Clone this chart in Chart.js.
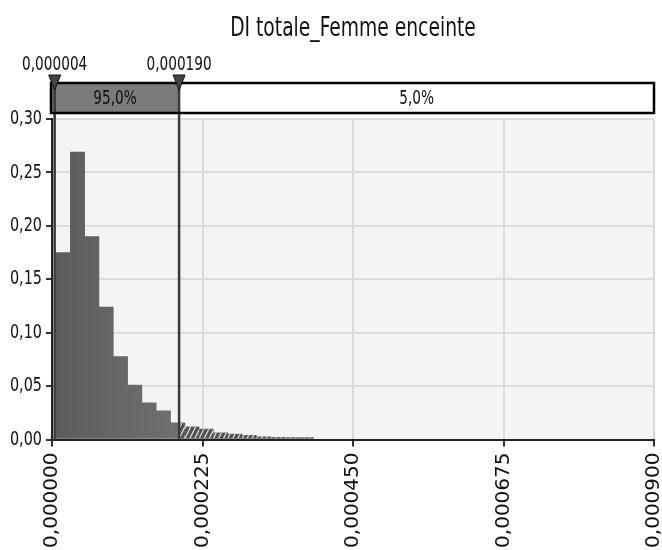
<!DOCTYPE html>
<html>
<head>
<meta charset="utf-8">
<script src="https://cdn.jsdelivr.net/npm/chart.js@4.4.0/dist/chart.umd.min.js"></script>
<style>
  html, body { margin: 0; padding: 0; background: #fff; }
  #wrap { width: 662px; height: 550px; }
</style>
</head>
<body>
<div id="wrap"><canvas id="graph" width="662" height="550"></canvas></div>
<script>
const chartTitle = 'DI totale_Femme enceinte';

// histogram bins (centres) and probability per bin
const binCenters = [
  0.0000167, 0.0000381, 0.0000595, 0.0000809, 0.0001023, 0.0001237,
  0.0001451, 0.0001665, 0.0001879, 0.0002093, 0.0002307, 0.0002521,
  0.0002735, 0.0002949, 0.0003163, 0.0003377, 0.0003591, 0.0003805
];
const probabilities = [
  0.175, 0.269, 0.190, 0.124, 0.0775, 0.051,
  0.0343, 0.0268, 0.0156, 0.0118, 0.0097, 0.0062,
  0.0050, 0.0040, 0.0025, 0.0020, 0.0018, 0.0017
];

const xTickValues = [0, 0.000225, 0.00045, 0.000675, 0.0009];
const yTickValues = [0, 0.05, 0.10, 0.15, 0.20, 0.25, 0.30];

const lowerBound = 0.000004;
const upperBound = 0.000190;
const bandLabels = ['95,0%', '5,0%'];

const narrow = '"DejaVu Sans Condensed", sans-serif';
const squeeze = 0.8;
const comma = (v, d) => v.toFixed(d).replace('.', ',');

// draw text squeezed horizontally around its anchor
function narrowText(ctx, text, x, y) {
  ctx.save();
  ctx.translate(x, y);
  ctx.scale(squeeze, 1);
  ctx.fillText(text, 0, 0);
  ctx.restore();
}

// light grey plot background
const backdrop = {
  id: 'backdrop',
  beforeDraw(chart) {
    const { ctx, chartArea: a } = chart;
    ctx.save();
    ctx.fillStyle = '#f4f4f4';
    ctx.fillRect(a.left, a.top, a.right - a.left, a.bottom - a.top);
    ctx.restore();
  }
};

// hatched part of the bars beyond the upper bound
const hatch = {
  id: 'hatch',
  afterDatasetsDraw(chart) {
    const { ctx, scales: { x } } = chart;
    const cut = x.getPixelForValue(upperBound);
    chart.getDatasetMeta(0).data.forEach(bar => {
      const l = Math.max(bar.x - bar.width / 2, cut);
      const r = bar.x + bar.width / 2;
      if (r <= l) return;
      const t = bar.y, b = bar.base;
      ctx.save();
      ctx.beginPath();
      ctx.rect(l, t, r - l, b - t);
      ctx.clip();
      ctx.fillStyle = '#515151';
      ctx.fillRect(l, t, r - l, b - t);
      ctx.strokeStyle = 'rgba(255,255,255,0.85)';
      ctx.lineWidth = 1.2;
      for (let s = l - 20; s < r + 5; s += 5) {
        ctx.beginPath();
        ctx.moveTo(s, b);
        ctx.lineTo(s + 8, b - 16);
        ctx.stroke();
      }
      ctx.restore();
    });
  }
};

// title, percentage band, bound markers
const band = {
  id: 'band',
  afterDraw(chart) {
    const { ctx, chartArea: a, scales: { x } } = chart;
    const lo = x.getPixelForValue(lowerBound);
    const hi = x.getPixelForValue(upperBound);
    const top = a.top - 36, h = 30;
    const left = a.left - 1, right = a.right;
    ctx.save();

    ctx.fillStyle = '#111';
    ctx.font = '26px ' + narrow;
    ctx.textAlign = 'center';
    ctx.textBaseline = 'alphabetic';
    narrowText(ctx, chartTitle, (a.left + a.right) / 2, 36);

    ctx.fillStyle = '#7b7b7b';
    ctx.fillRect(left, top, hi - left, h);
    ctx.fillStyle = '#fff';
    ctx.fillRect(hi, top, right - hi, h);

    ctx.strokeStyle = '#3a3a3a';
    ctx.lineWidth = 2.5;
    [lo, hi].forEach(px => {
      ctx.beginPath();
      ctx.moveTo(px, top);
      ctx.lineTo(px, a.bottom);
      ctx.stroke();
    });

    ctx.strokeStyle = '#000';
    ctx.lineWidth = 2.5;
    ctx.strokeRect(left, top, right - left, h);

    ctx.font = '19px ' + narrow;
    ctx.fillStyle = '#111';
    ctx.textBaseline = 'middle';
    narrowText(ctx, bandLabels[0], (left + hi) / 2, top + h / 2 + 1);
    narrowText(ctx, bandLabels[1], (hi + right) / 2, top + h / 2 + 1);

    [lowerBound, upperBound].forEach(v => {
      const px = x.getPixelForValue(v);
      ctx.fillStyle = '#444';
      ctx.beginPath();
      ctx.moveTo(px - 6, top - 8);
      ctx.lineTo(px + 6, top - 8);
      ctx.lineTo(px, top + 7);
      ctx.closePath();
      ctx.fill();
      ctx.strokeStyle = '#111';
      ctx.lineWidth = 1;
      ctx.stroke();
      ctx.fillStyle = '#111';
      ctx.textBaseline = 'alphabetic';
      narrowText(ctx, comma(v, 6), px, top - 13);
    });
    ctx.restore();
  }
};

new Chart(document.getElementById('graph'), {
  type: 'bar',
  data: {
    datasets: [{
      data: binCenters.map((c, i) => ({ x: c, y: probabilities[i] })),
      backgroundColor: c => {
        const a = c.chart.chartArea;
        if (!a) return '#646464';
        const g = c.chart.ctx.createLinearGradient(a.left, 0, a.left + 140, 0);
        g.addColorStop(0, '#5c5c5c');
        g.addColorStop(1, '#727272');
        return g;
      },
      borderWidth: 0,
      barPercentage: 1,
      categoryPercentage: 1
    }]
  },
  options: {
    responsive: false,
    animation: false,
    layout: { padding: { top: 119, right: 8, left: 0, bottom: 0 } },
    plugins: {
      legend: { display: false },
      tooltip: { enabled: false }
    },
    scales: {
      x: {
        type: 'linear',
        min: 0,
        max: 0.0009,
        offset: false,
        afterBuildTicks: s => { s.ticks = xTickValues.map(v => ({ value: v })); },
        afterFit: s => {
          s.height = 110.5;
          s.paddingLeft = 0;
          s.paddingRight = 0;
        },
        grid: { color: '#dadada', lineWidth: 2, tickColor: '#333', tickLength: 7, offset: false },
        border: { color: '#222', width: 2 },
        ticks: {
          minRotation: 90,
          maxRotation: 90,
          padding: 6,
          color: '#111',
          font: { family: 'DejaVu Sans', size: 20 },
          callback: v => comma(v, 6)
        }
      },
      y: {
        min: 0,
        max: 0.3,
        afterBuildTicks: s => { s.ticks = yTickValues.map(v => ({ value: v })); },
        afterFit: s => {
          s.width = 52;
          s.paddingTop = 0;
          s.paddingBottom = 0;
          if (!s.squeezed) {
            // labels in the reference are drawn in a narrow face
            const drawLabels = s.drawLabels.bind(s);
            s.drawLabels = area => {
              const c = s.ctx, ax = s.right - 10;
              c.save();
              c.translate(ax, 0);
              c.scale(squeeze, 1);
              c.translate(-ax, 0);
              drawLabels(area);
              c.restore();
            };
            s.squeezed = true;
          }
        },
        grid: { color: '#dcdcdc', lineWidth: 2, tickColor: '#333', tickLength: 6 },
        border: { color: '#222', width: 2 },
        ticks: {
          padding: 4,
          color: '#111',
          font: { family: narrow, size: 20 },
          callback: v => comma(v, 2)
        }
      }
    }
  },
  plugins: [backdrop, hatch, band]
});
</script>
</body>
</html>
